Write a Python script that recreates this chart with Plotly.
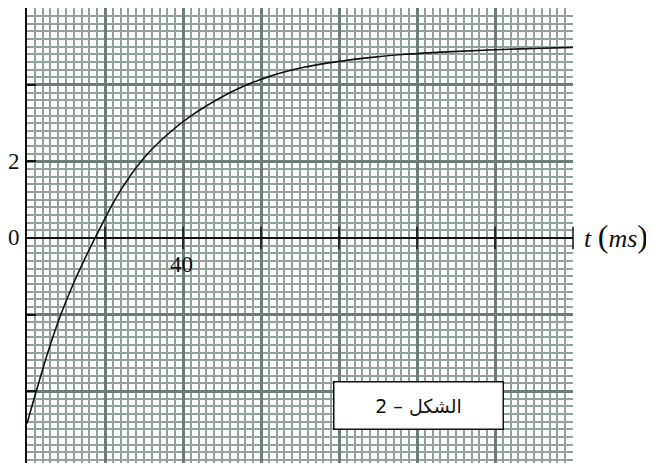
import plotly.graph_objects as go

# curve: t in ms, value in graph units
t_ms = [0, 2.5, 5.5, 8.6, 12, 15.5, 17.7, 22.5, 26.8, 31.1, 36.3, 41.5,
        46.8, 53.7, 62.4, 71, 79.7, 88.4, 97, 109, 120, 130, 140]
u_val = [-4.85, -3.96, -2.94, -2.02, -1.17, -0.40, 0.05, 0.99, 1.67, 2.22,
         2.73, 3.15, 3.50, 3.88, 4.23, 4.46, 4.61, 4.72, 4.80, 4.87, 4.92,
         4.95, 4.98]

x_ticks = [20, 40, 60, 80, 100, 120, 140]
x_tick_zero = [0] * len(x_ticks)

_MINOR = "#93a19c"
_MAJOR = "#6c7d77"
_SERIF = "Liberation Serif"

fig = go.Figure()

fig.add_trace(
    go.Scatter(
        x=t_ms,
        y=u_val,
        mode="lines",
        line=dict(color="#111111", width=1.6, shape="spline", smoothing=1.0),
        hoverinfo="skip",
    )
)

# cross ticks on the time axis
fig.add_trace(
    go.Scatter(
        x=x_ticks,
        y=x_tick_zero,
        mode="markers",
        marker=dict(symbol="line-ns", size=16, line=dict(color="#111111", width=1.5)),
        hoverinfo="skip",
        cliponaxis=False,
    )
)

# page body adds 8px on the left/top, so the figure is 8px smaller
fig.update_layout(
    width=646,
    height=455,
    margin=dict(l=19, r=81, t=0, b=0),
    paper_bgcolor="white",
    plot_bgcolor="white",
    showlegend=False,
    xaxis=dict(
        range=[0, 140],
        dtick=20,
        tick0=0,
        showgrid=True,
        gridcolor=_MAJOR,
        gridwidth=2.6,
        minor=dict(dtick=2, showgrid=True, gridcolor=_MINOR, gridwidth=1.8),
        showticklabels=False,
        zeroline=False,
        showline=False,
        ticks="",
    ),
    yaxis=dict(
        range=[-5.88, 6.01],
        dtick=2,
        tick0=0,
        showgrid=True,
        gridcolor=_MAJOR,
        gridwidth=2.6,
        minor=dict(dtick=0.2, showgrid=True, gridcolor=_MINOR, gridwidth=1.8),
        showticklabels=False,
        zeroline=True,
        zerolinecolor="#111111",
        zerolinewidth=2,
        showline=True,
        linecolor="#111111",
        linewidth=2,
        ticks="inside",
        ticklen=9,
        tickcolor="#111111",
        tickwidth=1.5,
    ),
)

label_font = dict(family=_SERIF, size=23, color="#111111")

fig.add_annotation(x=0, y=2, xref="paper", yref="y", text="2", showarrow=False,
                   xanchor="right", xshift=-5, font=label_font)
fig.add_annotation(x=0, y=0, xref="paper", yref="y", text="0", showarrow=False,
                   xanchor="right", xshift=-5, font=label_font)
fig.add_annotation(x=40, y=-0.68, xref="x", yref="y", text="40", showarrow=False,
                   xanchor="center", xshift=-2, font=label_font)
fig.add_annotation(
    x=1, y=0, xref="paper", yref="y",
    text="<i>t</i> <span style='font-size:32px'>(</span><i>ms</i><span style='font-size:32px'>)</span>",
    showarrow=False, xanchor="left", xshift=9, yshift=2,
    font=dict(family=_SERIF, size=26, color="#111111"),
)

fig.add_annotation(
    x=100.4, y=-4.37, xref="x", yref="y",
    text="2 – الشكل",
    showarrow=False,
    bgcolor="white",
    bordercolor="#111111",
    borderwidth=1.5,
    width=166,
    height=44,
    font=dict(family="DejaVu Sans", size=19, color="#111111"),
)

fig.write_html("out.html")
